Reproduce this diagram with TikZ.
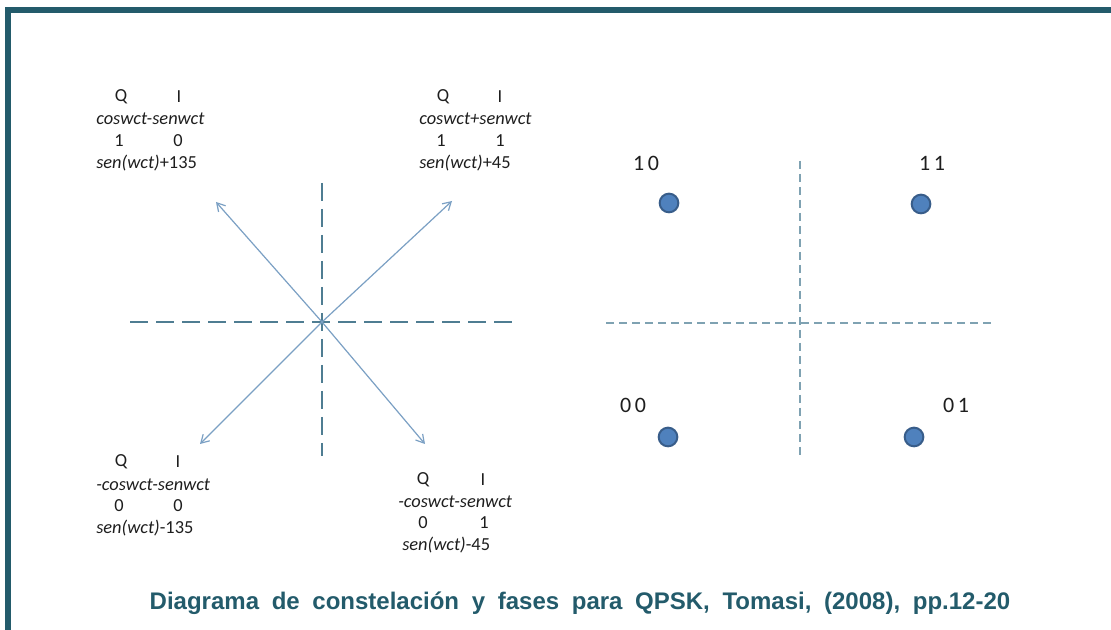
\documentclass[tikz,border=0pt]{standalone}
\usepackage{fontspec}
\setmainfont{Carlito}
\newfontfamily\capfont{Liberation Sans}
\usetikzlibrary{arrows.meta}
\definecolor{framec}{HTML}{235B6B}
\definecolor{axisc}{HTML}{4F7D92}
\definecolor{axisthin}{HTML}{7FA2B2}
\definecolor{vecc}{HTML}{7BA0C4}
\definecolor{dotfill}{HTML}{4F81BD}
\definecolor{dotdraw}{HTML}{385D8A}
\definecolor{txtc}{HTML}{1E1E1E}
\newcommand{\widespaces}{\spaceskip=9.5pt plus 1pt\relax}
\tikzset{
  lbl/.style={font=\fontsize{13.8}{16}\selectfont, inner sep=0pt, text=txtc},
  lbli/.style={lbl, font=\fontsize{13.8}{16}\selectfont\itshape},
  bits/.style={font=\fontsize{16.5}{19}\selectfont, inner sep=0pt, text=txtc},
  bigaxis/.style={draw=axisc, line width=1.5pt, dash pattern=on 13.5pt off 6pt},
  smallaxis/.style={draw=axisthin, line width=0.8pt, dash pattern=on 6pt off 3.75pt},
  vec/.style={draw=vecc, line width=0.9pt, -{Straight Barb[length=6pt,width=7pt]}},
  sym/.style={circle, fill=dotfill, draw=dotdraw, line width=1.5pt, minimum size=14pt, inner sep=0pt},
  framel/.style={draw=framec, line width=4.5pt},
  captionst/.style={inner sep=0pt, text=framec, font=\capfont\bfseries\fontsize{18}{21}\selectfont}
}
\begin{document}
\begin{tikzpicture}[x=0.75pt,y=-0.75pt]
\useasboundingbox (0,0) rectangle (1111,630);
\fill[white] (0,0) rectangle (1111,630);
% frame
\coordinate (f1) at (5,10.5);
\coordinate (f2) at (1111,10.5);
\coordinate (f3) at (7.5,8);
\coordinate (f4) at (7.5,630);
\draw[framel] (f1) -- (f2);
\draw[framel] (f3) -- (f4);

% left diagram
\coordinate (O) at (322,322);
\coordinate (vt) at (322,183);
\coordinate (vb) at (322,456);
\coordinate (hl) at (130,322);
\coordinate (hr) at (515,322);
\draw[bigaxis] (vt) -- (vb);
\draw[bigaxis] (hl) -- (hr);
\coordinate (aul) at (216,202);
\coordinate (aur) at (452,201);
\coordinate (all) at (200,444);
\coordinate (alr) at (425,444);
\draw[vec] (O) -- (aul);
\draw[vec] (O) -- (aur);
\draw[vec] (O) -- (all);
\draw[vec] (O) -- (alr);

% upper-left block
\node[lbl] (ulQ) at (121,97) {Q};
\node[lbl] (ulI) at (179,97) {I};
\node[lbli, anchor=west] (ulA) at (96,119) {coswct-senwct};
\node[lbl] (ulb1) at (119,141) {1};
\node[lbl] (ulb2) at (178,141) {0};
\node[lbl, anchor=west] (ulS) at (96,163) {\textit{sen(wct)}+135};

% upper-right block
\node[lbl] (urQ) at (443,97) {Q};
\node[lbl] (urI) at (500,97) {I};
\node[lbli, anchor=west] (urA) at (419,119) {coswct+senwct};
\node[lbl] (urb1) at (441,141) {1};
\node[lbl] (urb2) at (500,141) {1};
\node[lbl, anchor=west] (urS) at (419,163) {\textit{sen(wct)}+45};

% lower-left block
\node[lbl] (llQ) at (121,462) {Q};
\node[lbl] (llI) at (178,462) {I};
\node[lbli, anchor=west] (llA) at (96,485) {-coswct-senwct};
\node[lbl] (llb1) at (119,506) {0};
\node[lbl] (llb2) at (178,506) {0};
\node[lbl, anchor=west] (llS) at (96,528) {\textit{sen(wct)}-135};

% lower-right block
\node[lbl] (lrQ) at (423,480) {Q};
\node[lbl] (lrI) at (483,480) {I};
\node[lbli, anchor=west] (lrA) at (398,502) {-coswct-senwct};
\node[lbl] (lrb1) at (423,523) {0};
\node[lbl] (lrb2) at (484,523) {1};
\node[lbl, anchor=west] (lrS) at (402,545) {\textit{sen(wct)}-45};

% right diagram
\coordinate (rvt) at (800,161);
\coordinate (rvb) at (800,458);
\coordinate (rhl) at (606,323);
\coordinate (rhr) at (993,323);
\draw[smallaxis] (rvt) -- (rvb);
\draw[smallaxis] (rhl) -- (rhr);
\node[sym] (s10) at (669,203) {};
\node[sym] (s11) at (921,204) {};
\node[sym] (s00) at (668,437) {};
\node[sym] (s01) at (914,437) {};
\node[bits] (t10) at (646,163) {1\,0};
\node[bits] (t11) at (932,163) {1\,1};
\node[bits] (t00) at (633,405) {0\,0};
\node[bits] (t01) at (956,405) {0\,1};

% caption
\node[captionst] (cap) at (580,603)
  {\widespaces Diagrama de constelación y fases para QPSK, Tomasi, (2008), pp.12-20};
\end{tikzpicture}
\end{document}
